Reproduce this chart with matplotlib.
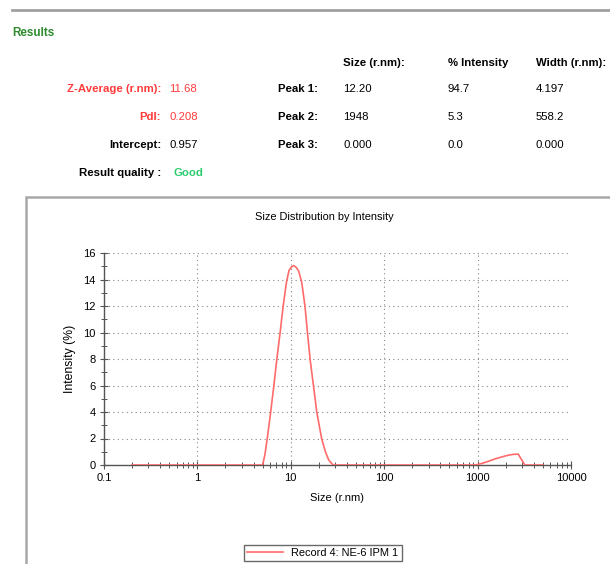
import matplotlib
matplotlib.use("Agg")
import matplotlib.pyplot as plt
from matplotlib.patches import Rectangle
from matplotlib.lines import Line2D
from matplotlib.ticker import LogLocator, MultipleLocator, FixedLocator

plt.rcParams['font.family'] = ['Liberation Sans', 'DejaVu Sans']

# ---- data ----
size_rnm = [0.2, 0.3, 0.5, 0.8, 1.0, 2.0, 3.0, 4.0, 5.0,
            5.3, 5.6, 5.85, 6.1, 6.6, 7.1, 7.7, 8.3, 9.0, 9.6, 10.2, 10.8, 11.5,
            12.2, 13.1, 14.2, 15.1, 16.1, 17.5, 19.0, 21.4, 23.5, 25.4, 27.5, 28.6,
            40.0, 100.0, 300.0, 600.0, 900.0,
            1000.0, 1150.0, 1330.0, 1550.0, 1800.0, 2070.0, 2400.0, 2720.0, 2900.0, 3210.0,
            4000.0, 5000.0]
intensity = [0, 0, 0, 0, 0, 0, 0, 0, 0,
             0.8, 2.0, 3.0, 4.0, 6.0, 8.0, 10.0, 12.0, 13.8, 14.7, 14.95, 15.05, 14.9,
             14.6, 13.8, 12.0, 10.0, 8.0, 6.0, 4.0, 2.0, 1.0, 0.4, 0.1, 0,
             0, 0, 0, 0, 0,
             0.03, 0.15, 0.3, 0.47, 0.6, 0.72, 0.8, 0.82, 0.5, 0,
             0, 0]
series_label = "Record 4: NE-6 IPM 1"

summary_labels = ["Z-Average (r.nm):", "PdI:", "Intercept:"]
summary_values = ["11.68", "0.208", "0.957"]
peak_labels = ["Peak 1:", "Peak 2:", "Peak 3:"]
peak_sizes = ["12.20", "1948", "0.000"]
peak_intensity = ["94.7", "5.3", "0.0"]
peak_widths = ["4.197", "558.2", "0.000"]
col_headers = ["Size (r.nm):", "% Intensity", "Width (r.nm):"]

W, H = 610, 564
fig = plt.figure(figsize=(W / 100, H / 100), dpi=100)

def fx(px):
    return px / W

def fy(py):
    return 1 - py / H

RED = '#ff3b3b'
fs = 8.2

# top rule
fig.add_artist(Line2D([fx(12), fx(610)], [fy(10), fy(10)], color='#a0a0a0', lw=2.0))
fig.text(fx(12), fy(33), "Results", color='#2e8b2e', fontsize=8.4, fontweight='bold',
         ha='left', va='center')

# column headers
col_x = [343, 448, 536]
for x, t in zip(col_x, col_headers):
    fig.text(fx(x), fy(63), t, fontsize=fs, fontweight='bold', ha='left', va='center')

rows_y = [89, 117, 145]
sum_colors = [RED, RED, 'black']
for y, lab, val, c in zip(rows_y, summary_labels, summary_values, sum_colors):
    fig.text(fx(161), fy(y), lab, fontsize=fs, fontweight='bold', color=c, ha='right', va='center')
    fig.text(fx(169), fy(y), val, fontsize=fs, color=c, ha='left', va='center')
for y, lab, s, i, w in zip(rows_y, peak_labels, peak_sizes, peak_intensity, peak_widths):
    fig.text(fx(318), fy(y), lab, fontsize=fs, fontweight='bold', ha='right', va='center')
    fig.text(fx(343), fy(y), s, fontsize=fs, ha='left', va='center')
    fig.text(fx(448), fy(y), i, fontsize=fs, ha='left', va='center')
    fig.text(fx(536), fy(y), w, fontsize=fs, ha='left', va='center')
fig.text(fx(161), fy(173), "Result quality :", fontsize=fs, fontweight='bold', ha='right', va='center')
fig.text(fx(173), fy(173), "Good", fontsize=fs, fontweight='bold', color='#2ecc71', ha='left', va='center')

# frame box
fig.add_artist(Rectangle((fx(26), fy(600)), fx(620), fy(197) - fy(600), transform=fig.transFigure,
                         fill=False, edgecolor='#a8a8a8', lw=1.8))

# axes
ax_l, ax_r, ax_t, ax_b = 103.9, 571, 253, 465
ax = fig.add_axes([fx(ax_l), fy(ax_b), fx(ax_r - ax_l), (ax_b - ax_t) / H])
ax.plot(size_rnm, intensity, color='#ff6b6b', lw=1.2, label=series_label, zorder=3,
        solid_joinstyle='round')
ax.set_xscale('log')
ax.set_xlim(0.1, 10000)
ax.set_ylim(0, 16)
ax.xaxis.set_major_locator(FixedLocator([0.1, 1, 10, 100, 1000, 10000]))
ax.set_xticklabels(['0.1', '1', '10', '100', '1000', '10000'])
ax.xaxis.set_minor_locator(LogLocator(base=10, subs=[2, 3, 4, 5, 6, 7, 8, 9]))
ax.xaxis.set_minor_formatter(plt.NullFormatter())
ax.yaxis.set_major_locator(MultipleLocator(2))
ax.yaxis.set_minor_locator(MultipleLocator(1))
for s in ['top', 'right']:
    ax.spines[s].set_visible(False)
for s in ['left', 'bottom']:
    ax.spines[s].set_color('#555555')
    ax.spines[s].set_linewidth(1.0)
ax.tick_params(which='major', direction='inout', length=6, width=0.8, color='#555555',
               labelsize=8, pad=3)
ax.tick_params(which='minor', direction='inout', length=4, width=0.7, color='#555555')
ax.grid(True, which='major', color='#888888', linestyle=(0, (1, 3)), lw=0.8)
ax.set_xlabel("Size (r.nm)", fontsize=8, labelpad=7)
ax.set_ylabel("Intensity (%)", fontsize=8.8, labelpad=5)
ax.set_facecolor('none')

fig.text(fx(324), fy(217), "Size Distribution by Intensity", fontsize=7.9, ha='center', va='center')

leg = ax.legend(loc='center', bbox_to_anchor=(fx(323), fy(553)), bbox_transform=fig.transFigure,
                fontsize=7.9, frameon=True, fancybox=False, handlelength=3.2, borderpad=0.3)
leg.get_frame().set_edgecolor('#444444')
leg.get_frame().set_linewidth(1.0)

fig.savefig("out.png", dpi=100)
